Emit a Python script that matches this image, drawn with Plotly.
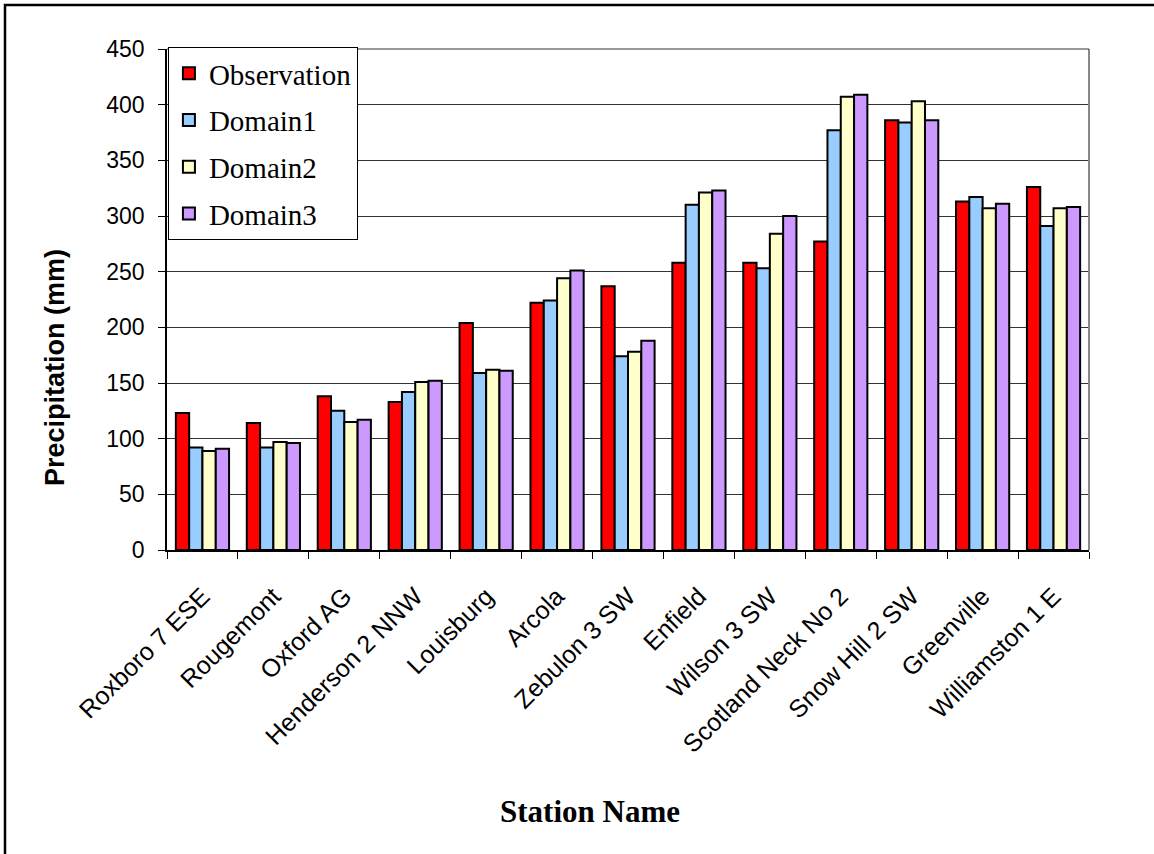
import plotly.graph_objects as go

stations = ["Roxboro 7 ESE", "Rougemont", "Oxford AG", "Henderson 2 NNW", "Louisburg",
            "Arcola", "Zebulon 3 SW", "Enfield", "Wilson 3 SW", "Scotland Neck No 2",
            "Snow Hill 2 SW", "Greenville", "Williamston 1 E"]
observation = [123, 114, 138, 133, 204, 222, 237, 258, 258, 277, 386, 313, 326]
domain1 = [92, 92, 125, 142, 159, 224, 174, 310, 253, 377, 384, 317, 291]
domain2 = [89, 97, 115, 151, 162, 244, 178, 321, 284, 407, 403, 307, 307]
domain3 = [91, 96, 117, 152, 161, 251, 188, 323, 300, 409, 386, 311, 308]

series = [("Observation", observation, "#FF0000"),
          ("Domain1", domain1, "#99CCFF"),
          ("Domain2", domain2, "#FFFFCC"),
          ("Domain3", domain3, "#CC99FF")]

fig = go.Figure()
for name, vals, color in series:
    fig.add_trace(go.Bar(
        x=stations, y=vals, name=name, legendgroup=name,
        marker=dict(color=color, line=dict(color="black", width=2)),
    ))

fig.update_layout(
    width=1154, height=854,
    margin=dict(l=167, r=65, t=49, b=304),
    paper_bgcolor="white", plot_bgcolor="white",
    barmode="group", bargap=0.25, bargroupgap=0,
    showlegend=True,
    legend=dict(
        x=0.001, y=1.004, xanchor="left", yanchor="top",
        bgcolor="white", bordercolor="black", borderwidth=1,
        font=dict(family="Liberation Serif", size=29, color="black"),
        tracegroupgap=6, itemsizing="constant", itemwidth=30,
    ),
    font=dict(family="Liberation Sans", color="black"),
)

fig.update_yaxes(
    range=[0, 450], dtick=50, showgrid=True, gridcolor="#333333", gridwidth=1,
    showline=True, linecolor="black", linewidth=1.5,
    ticks="outside", ticklen=7, tickcolor="black", ticklabelstandoff=9,
    tickfont=dict(family="Liberation Sans", size=23, color="black"),
    zeroline=False,
)
fig.update_xaxes(
    showline=True, linecolor="black", linewidth=1.5,
    ticks="outside", ticklen=7, tickcolor="black", tickson="boundaries",
    tickangle=-45, ticklabelstandoff=20,
    tickfont=dict(family="Liberation Sans", size=25, color="black"),
)

# plot-area frame on the right side and top
fig.add_shape(type="line", xref="paper", yref="paper", x0=1, x1=1, y0=0, y1=1,
              line=dict(color="#888888", width=2))
fig.add_shape(type="line", xref="paper", yref="paper", x0=0, x1=1, y0=1, y1=1,
              line=dict(color="#333333", width=1))

# outer chart border
fig.add_shape(type="rect", xref="paper", yref="paper",
              x0=-0.1757, x1=1.08, y0=-0.62, y1=1.088,
              line=dict(color="black", width=2.5), layer="above")

# axis titles
fig.add_annotation(text="<b>Precipitation (mm)</b>", xref="paper", yref="paper",
                   x=(55 - 167) / 922, y=(550 - 368) / 501, textangle=-90,
                   xanchor="center", yanchor="middle", showarrow=False,
                   font=dict(family="Liberation Sans", size=27, color="black"))
fig.add_annotation(text="<b>Station Name</b>", xref="paper", yref="paper",
                   x=(590 - 167) / 922, y=(550 - 811) / 501,
                   xanchor="center", yanchor="middle", showarrow=False,
                   font=dict(family="Liberation Serif", size=31, color="black"))

fig.write_html("out.html")
